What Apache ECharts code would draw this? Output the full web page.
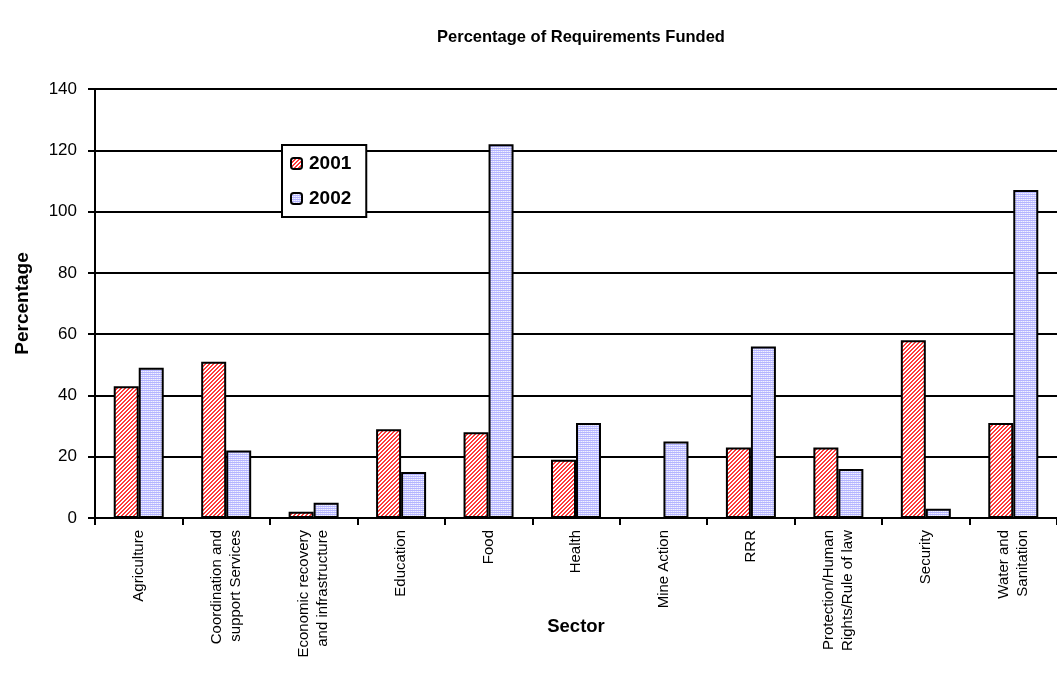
<!DOCTYPE html>
<html>
<head>
<meta charset="utf-8">
<script src="https://cdn.jsdelivr.net/npm/echarts@6/dist/echarts.min.js"></script>
<style>html,body{margin:0;padding:0;background:#fff;}#c{width:1057px;height:691px;}</style>
</head>
<body>
<div id="c"></div>
<script>
const categories = ['Agriculture', 'Coordination and\nsupport Services', 'Economic recovery\nand infrastructure', 'Education', 'Food', 'Health', 'Mine Action', 'RRR', 'Protection/Human\nRights/Rule of law', 'Security', 'Water and\nSanitation'];
const values2001 = [43, 51, 2, 29, 28, 19, 0, 23, 23, 58, 31];
const values2002 = [49, 22, 5, 15, 122, 31, 25, 56, 16, 3, 107];
const yTicks = [0, 20, 40, 60, 80, 100, 120, 140];

function redPattern() {
  const c = document.createElement('canvas'); c.width = 4; c.height = 4;
  const ctx = c.getContext('2d');
  ctx.fillStyle = '#ffffff'; ctx.fillRect(0, 0, 4, 4);
  ctx.fillStyle = '#ff3b3b';
  for (let x = 0; x < 4; x++) for (let y = 0; y < 4; y++) {
    const k = (x + y) % 4;
    if (k === 0 || k === 1) ctx.fillRect(x, y, 1, 1);
  }
  return c;
}
function bluePattern() {
  const c = document.createElement('canvas'); c.width = 2; c.height = 2;
  const ctx = c.getContext('2d');
  ctx.fillStyle = '#f2f2ff'; ctx.fillRect(0, 0, 2, 2);
  ctx.fillStyle = '#b4b4ff'; ctx.fillRect(0, 0, 2, 1);
  ctx.fillStyle = '#d6d6ff'; ctx.fillRect(0, 1, 1, 1);
  return c;
}

const chart = echarts.init(document.getElementById('c'));
const font = 'Liberation Sans, Arial, sans-serif';
chart.setOption({
  animation: false,
  backgroundColor: '#ffffff',
  title: {
    text: 'Percentage of Requirements Funded',
    left: 576, top: 24, textAlign: 'center',
    textStyle: { fontFamily: font, fontSize: 16.5, fontWeight: 'bold', color: '#000' }
  },
  legend: {
    orient: 'vertical', left: 282, top: 145,
    itemWidth: 11, itemHeight: 11, itemGap: 16,
    padding: [9, 15, 9, 8],
    backgroundColor: '#ffffff', borderColor: '#000', borderWidth: 2,
    textStyle: { fontFamily: font, fontSize: 19, fontWeight: 'bold', color: '#000', padding: [0, 0, 0, 2] },
    data: ['2001', '2002']
  },
  grid: { left: 95, top: 89, bottom: 173, right: -11, containLabel: false },
  xAxis: {
    type: 'category', data: categories,
    name: 'Sector', nameLocation: 'middle', nameGap: 99, nameMoveOverlap: false,
    nameTextStyle: { fontFamily: font, fontSize: 18.5, fontWeight: 'bold', color: '#000' },
    axisLine: { lineStyle: { color: '#000', width: 2 } },
    axisTick: { show: true, length: 7, lineStyle: { color: '#000', width: 2 } },
    axisLabel: { rotate: 90, interval: 0, margin: 12, fontFamily: font, fontSize: 15, color: '#000', lineHeight: 19, align: 'right' }
  },
  yAxis: {
    type: 'value', min: 0, max: 140, interval: 20,
    name: 'Percentage', nameLocation: 'middle', nameGap: 63, nameMoveOverlap: false,
    nameTextStyle: { fontFamily: font, fontSize: 19, fontWeight: 'bold', color: '#000' },
    axisLine: { show: true, lineStyle: { color: '#000', width: 2 } },
    axisTick: { show: true, length: 7, lineStyle: { color: '#000', width: 2 } },
    axisLabel: { margin: 18, fontFamily: font, fontSize: 17, color: '#000',
      formatter: v => yTicks.includes(v) ? String(v) : '' },
    splitLine: { show: true, lineStyle: { color: '#000', width: 2 } }
  },
  series: [
    { name: '2001', type: 'bar', data: values2001, barWidth: 25, barGap: '0%',
      itemStyle: { color: { image: redPattern(), repeat: 'repeat' }, borderColor: '#000', borderWidth: 2 } },
    { name: '2002', type: 'bar', data: values2002, barWidth: 25, barGap: '0%',
      itemStyle: { color: { image: bluePattern(), repeat: 'repeat' }, borderColor: '#000', borderWidth: 2 } }
  ]
});
</script>
</body>
</html>
